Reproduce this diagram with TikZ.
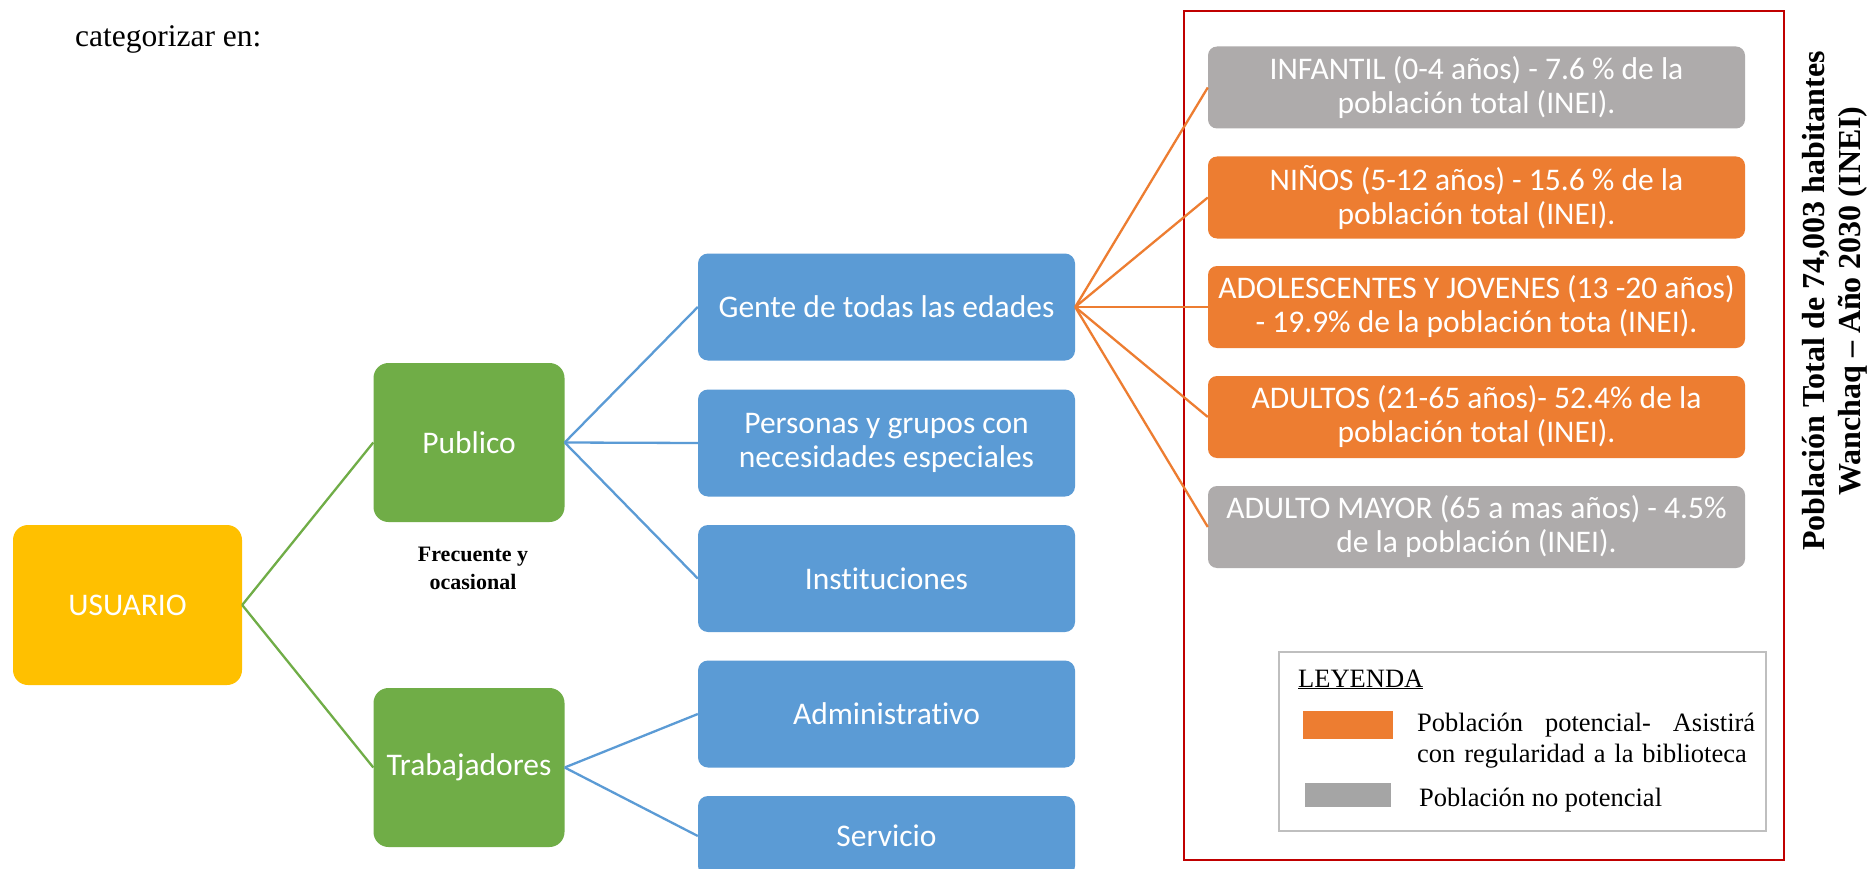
\documentclass[tikz,border=0pt]{standalone}
\usepackage{fontspec}
\setmainfont{Liberation Serif}
\newfontfamily\calfont[Ligatures=NoCommon]{Carlito}
\definecolor{cyellow}{HTML}{FFC000}
\definecolor{cgreen}{HTML}{70AD47}
\definecolor{cblue}{HTML}{5B9BD5}
\definecolor{corange}{HTML}{ED7D31}
\definecolor{cgrey}{HTML}{AEABAB}
\definecolor{cgreyswatch}{HTML}{A5A5A5}
\definecolor{cred}{HTML}{C00000}
\definecolor{cframe}{HTML}{BFBFBF}
\begin{document}
\begin{tikzpicture}[x=1pt,y=-1pt,
  boxtext/.style={inner sep=0pt, text=white, align=center, font=\calfont\fontsize{31.5}{34}\selectfont},
  rootbox/.style={boxtext, fill=cyellow, rounded corners=15pt, minimum width=229pt, minimum height=160pt},
  greenbox/.style={boxtext, fill=cgreen, rounded corners=15pt, minimum width=191pt, minimum height=159pt},
  bluebox/.style={boxtext, fill=cblue, rounded corners=10pt, minimum width=377pt, minimum height=107pt},
  agebox/.style={boxtext, fill=#1, rounded corners=9pt, minimum width=537pt, minimum height=82pt},
  greenline/.style={draw=cgreen, line width=2.3pt},
  blueline/.style={draw=cblue, line width=2.3pt},
  orangeline/.style={draw=corange, line width=2.3pt},
  serif/.style={inner sep=0pt, text=black},
]
\clip (0,0) rectangle (1870,869);
\fill[white] (0,0) rectangle (1870,869);

% intro text
\node[serif, anchor=base west, font=\fontsize{31.5}{36}\selectfont] (intro) at (75,47) {categorizar en:};

% red frame
\draw[cred, line width=2pt] (1184,11) rectangle (1784,860);

% tree nodes
\node[rootbox] (usuario) at (127.5,605) {USUARIO};
\node[greenbox] (publico) at (469,442.5) {Publico};
\node[greenbox] (trab) at (469,767.5) {Trabajadores};
\node[serif, align=center, font=\bfseries\fontsize{22}{28}\selectfont] (frec) at (473,568) {Frecuente y\\ocasional};

\node[bluebox] (gente) at (886.5,307) {Gente de todas las edades};
\node[bluebox] (personas) at (886.5,443) {Personas y grupos con\\necesidades especiales};
\node[bluebox] (inst) at (886.5,578.5) {Instituciones};
\node[bluebox] (admin) at (886.5,714) {Administrativo};
\node[bluebox, minimum height=80pt] (serv) at (886.5,836) {Servicio};

\node[agebox=cgrey] (infantil) at (1476.5,87.5) {INFANTIL (0-4 años) - 7.6 \% de la\\población total (INEI).};
\node[agebox=corange] (ninos) at (1476.5,197.5) {NIÑOS (5-12 años) - 15.6 \% de la\\población total (INEI).};
\node[agebox=corange] (adol) at (1476.5,307) {ADOLESCENTES Y JOVENES (13 -20 años)\\- 19.9\% de la población tota (INEI).};
\node[agebox=corange] (adultos) at (1476.5,417) {ADULTOS (21-65 años)- 52.4\% de la\\población total (INEI).};
\node[agebox=cgrey] (mayor) at (1476.5,527) {ADULTO MAYOR (65 a mas años) - 4.5\%\\de la población (INEI).};

% connectors
\draw[greenline] (usuario.east) -- (publico.west);
\draw[greenline] (usuario.east) -- (trab.west);
\draw[blueline] (publico.east) -- (gente.west);
\draw[blueline] (publico.east) -- (personas.west);
\draw[blueline] (publico.east) -- (inst.west);
\draw[blueline] (trab.east) -- (admin.west);
\draw[blueline] (trab.east) -- (serv.west);
\foreach \t in {infantil,ninos,adol,adultos,mayor}
  \draw[orangeline] (gente.east) -- (\t.west);

% legend
\draw[cframe, line width=1.5pt] (1279,652) rectangle (1766,831);
\node[serif, anchor=base west, font=\fontsize{26.5}{31}\selectfont] (leyenda) at (1298,687) {\underline{LEYENDA}};
\fill[corange] (1303,711) rectangle (1393,739);
\node[serif, anchor=base west, text width=338pt, align=left, font=\fontsize{26.5}{31}\selectfont] (ltext1) at (1417,731) {Población\hfill potencial-\hfill Asistirá\\con regularidad a la biblioteca};
\fill[cgreyswatch] (1305,783) rectangle (1391,807);
\node[serif, anchor=base west, font=\fontsize{26.5}{31}\selectfont] (ltext2) at (1419,806) {Población no potencial};

% vertical title
\node[serif, rotate=90, align=center, font=\bfseries\fontsize{32}{36}\selectfont] (title) at (1835,301) {Población Total de 74,003 habitantes\\Wanchaq -- Año 2030 (INEI)};
\end{tikzpicture}
\end{document}
